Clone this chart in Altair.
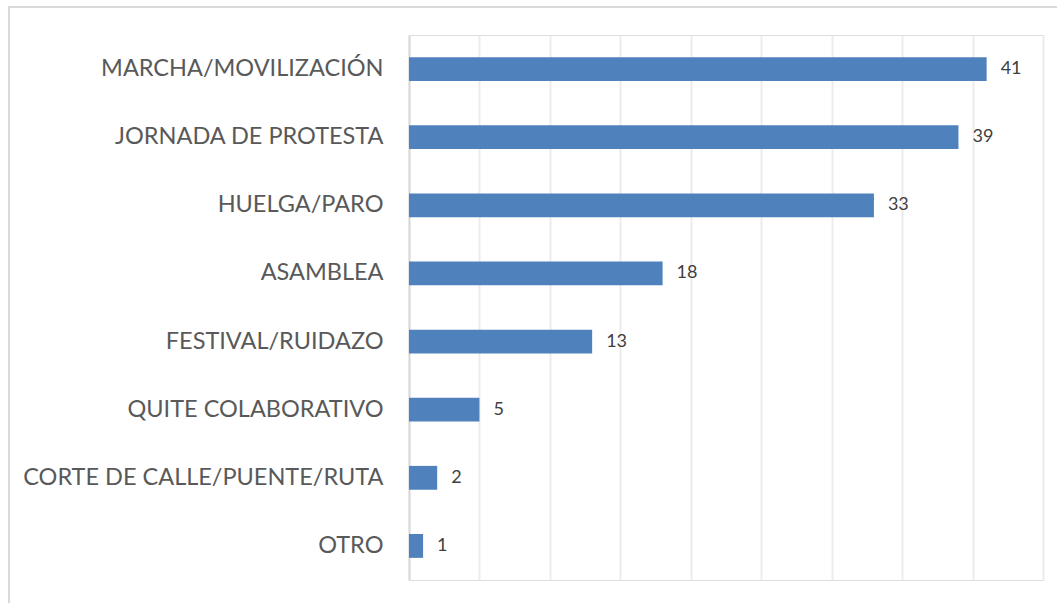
import altair as alt
import pandas as pd

categories = ["MARCHA/MOVILIZACIÓN", "JORNADA DE PROTESTA", "HUELGA/PARO", "ASAMBLEA",
              "FESTIVAL/RUIDAZO", "QUITE COLABORATIVO", "CORTE DE CALLE/PUENTE/RUTA", "OTRO"]
values = [41, 39, 33, 18, 13, 5, 2, 1]

df = pd.DataFrame({"cat": categories, "val": values})

FONT = "Lato"

y_enc = alt.Y("cat:N", sort=categories, title=None,
              scale=alt.Scale(paddingInner=0.65, paddingOuter=0.325),
              axis=alt.Axis(labelFontSize=23.5, labelColor="#595959", labelFont=FONT,
                            labelPadding=26, labelLimit=0, ticks=False, domain=True,
                            domainColor="#d9d9d9", domainWidth=2, grid=False))
x_enc = alt.X("val:Q", title=None,
              scale=alt.Scale(domain=[0, 45], nice=False, zero=True),
              axis=alt.Axis(values=list(range(0, 46, 5)), labels=False, ticks=False,
                            domain=False, grid=True, gridColor="#ececec", gridWidth=2))

bars = alt.Chart(df).mark_bar(color="#4f81bd").encode(x=x_enc, y=y_enc)
labels = alt.Chart(df).mark_text(align="left", baseline="middle", dx=14, fontSize=18,
                                 font=FONT, color="#404040").encode(
    x="val:Q", y=alt.Y("cat:N", sort=categories), text="val:Q")

frame = alt.Chart(df).mark_rect(fill=None, stroke="#d9d9d9", strokeWidth=2).encode(
    x=alt.value(-400), x2=alt.value(800), y=alt.value(-28), y2=alt.value(700))

chart = alt.layer(frame, bars, labels).properties(
    width=634, height=545,
    autosize=alt.AutoSizeParams(type="none"),
    padding={"left": 409, "top": 35, "right": 14, "bottom": 23},
).configure_view(stroke=None).configure(background="white")

chart.save("out.html", embed_options={"renderer": "svg", "actions": False})
